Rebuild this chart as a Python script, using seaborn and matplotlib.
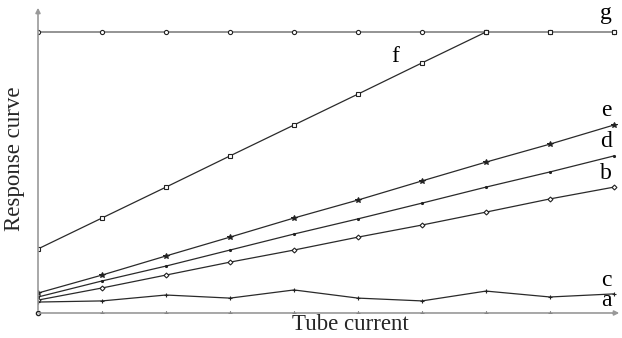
import numpy as np
import pandas as pd
import matplotlib
matplotlib.use("Agg")
import matplotlib.pyplot as plt
import seaborn as sns

sns.set_style("white")
plt.rcParams['font.family'] = ['Liberation Serif', 'DejaVu Serif']

# tube current steps
current = [0, 1, 2, 3, 4, 5, 6, 7, 8, 9]

# response curves
curve_a = [0, 0, 0, 0, 0, 0, 0, 0, 0, 0]
curve_b = [4.6, 8.9, 13.5, 18.1, 22.4, 27.0, 31.3, 35.9, 40.6, 44.8]
curve_c = [3.9, 4.3, 6.4, 5.3, 8.2, 5.3, 4.3, 7.8, 5.7, 6.8]
curve_d = [5.7, 11.4, 16.7, 22.4, 28.1, 33.5, 39.1, 44.8, 50.2, 55.9]
curve_e = [7.1, 13.5, 20.3, 27.0, 33.8, 40.2, 47.0, 53.7, 60.1, 66.9]
curve_f = [22.8, 33.8, 44.8, 55.9, 66.9, 77.9, 89.0, 100, 100, 100]
curve_g = [100, 100, 100, 100, 100, 100, 100, 100, 100, 100]

labels = ['a', 'b', 'c', 'd', 'e', 'f', 'g']
label_x = [8.875, 8.875, 8.875, 8.875, 8.875, 5.58, 8.875]
label_y = [4.6, 49.8, 11.4, 60.9, 72.2, 91.1, 106.4]

fig = plt.figure(figsize=(6.22, 3.38), dpi=100)
ax = fig.add_axes([38 / 622, 25 / 338, 584 / 622, 308 / 338])
ax.set_xlim(0, 9.125)
ax.set_ylim(0, 109.6)
for s in ax.spines.values():
    s.set_visible(False)
ax.set_xticks([])
ax.set_yticks([])

# axes with arrows
ax.annotate('', xy=(9.125, 0), xytext=(-0.03, 0),
            arrowprops=dict(arrowstyle='-|>', color='#999999', lw=1.2,
                            mutation_scale=7), annotation_clip=False)
ax.annotate('', xy=(0, 109.6), xytext=(0, 0),
            arrowprops=dict(arrowstyle='-|>', color='#999999', lw=1.2,
                            mutation_scale=7), annotation_clip=False)

lc = '#2a2a2a'
mk = '#222222'
sns.lineplot(x=current, y=curve_g, ax=ax, color='#777777', lw=1.1, marker='o',
             markersize=3, markerfacecolor='white', markeredgecolor=mk,
             markeredgewidth=0.8)
sns.lineplot(x=current[:8], y=curve_f[:8], ax=ax, color=lc, lw=0.9, marker='s',
             markersize=3, markerfacecolor='white', markeredgecolor=mk,
             markeredgewidth=0.8)
ax.plot(current[7:], curve_f[7:], ls='none', marker='s', markersize=3,
        markerfacecolor='white', markeredgecolor=mk, markeredgewidth=0.8)
sns.lineplot(x=current, y=curve_e, ax=ax, color=lc, lw=0.9, marker='*',
             markersize=4, markerfacecolor=mk, markeredgecolor=mk)
sns.lineplot(x=current, y=curve_d, ax=ax, color=lc, lw=0.9, marker='.',
             markersize=3, markerfacecolor=mk, markeredgecolor=mk)
sns.lineplot(x=current, y=curve_b, ax=ax, color=lc, lw=0.9, marker='D',
             markersize=2.5, markerfacecolor='white', markeredgecolor=mk,
             markeredgewidth=0.8)
sns.lineplot(x=current, y=curve_c, ax=ax, color=lc, lw=0.9, marker='+',
             markersize=3.5, markeredgecolor=mk, markeredgewidth=0.8)
sns.lineplot(x=current[1:], y=curve_a[1:], ax=ax, color='#666666', lw=0.8,
             marker='+', markersize=3.5, markeredgecolor=mk,
             markeredgewidth=0.8)
ax.plot(current[0], curve_a[0], marker='o', markersize=3, color=mk,
        markerfacecolor='white', clip_on=False)

for lab, lx, ly in zip(labels, label_x, label_y):
    ax.text(lx, ly, lab, fontsize=17, ha='center', va='center', color='black')

ax.set_xlabel('')
ax.set_ylabel('')
fig.text(350 / 622, 1 - 324 / 338, 'Tube current', fontsize=16.5,
         ha='center', va='center')
fig.text(15 / 622, 1 - 159 / 338, 'Response curve', fontsize=16.5,
         ha='center', va='center', rotation=90)

fig.savefig('out.png', dpi=100)
